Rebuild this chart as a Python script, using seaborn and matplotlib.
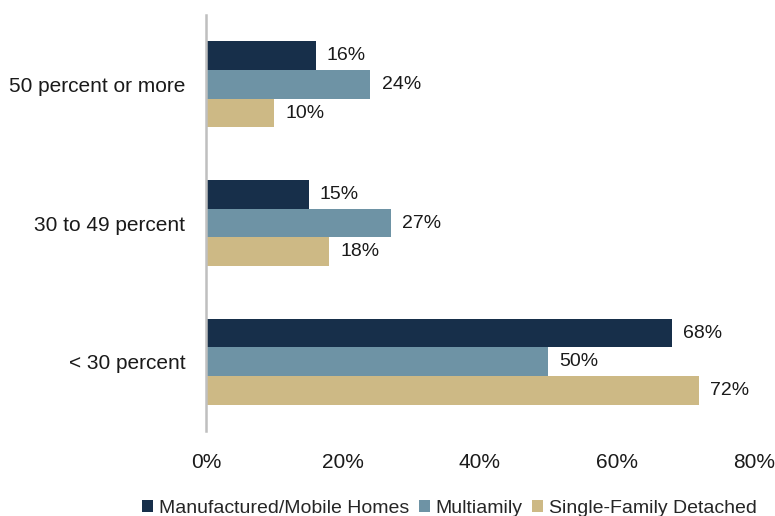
import matplotlib
matplotlib.use("Agg")
import matplotlib.pyplot as plt
import seaborn as sns
import pandas as pd

categories = ["50 percent or more", "30 to 49 percent", "< 30 percent"]
series = ["Manufactured/Mobile Homes", "Multiamily", "Single-Family Detached"]
manufactured = [16, 15, 68]
multifamily = [24, 27, 50]
single_family = [10, 18, 72]
x_ticks = [0, 20, 40, 60, 80]
x_tick_labels = ["0%", "20%", "40%", "60%", "80%"]

colors = ["#172f4a", "#6e93a5", "#cdb985"]

df = pd.DataFrame({
    "category": categories * 3,
    "series": [series[0]] * 3 + [series[1]] * 3 + [series[2]] * 3,
    "value": manufactured + multifamily + single_family,
})

sns.set_theme(style="white")
plt.rcParams["font.family"] = ["Liberation Sans", "DejaVu Sans"]

fig = plt.figure(figsize=(7.75, 5.16), dpi=100)
ax = fig.add_axes([0.2658, 0.1647, 0.7071, 0.8062])

sns.barplot(data=df, y="category", x="value", hue="series", order=categories,
            hue_order=series, palette=colors, orient="h", width=0.62,
            saturation=1, linewidth=0, ax=ax, legend=True)

for cont in ax.containers:
    ax.bar_label(cont, fmt="%.0f%%", padding=8, fontsize=14, color="#1a1a1a")

ax.set_xlim(0, 80)
ax.set_ylim(2.5, -0.5)
ax.set_xticks(x_ticks)
ax.set_xticklabels(x_tick_labels, fontsize=15, color="#1a1a1a")
ax.tick_params(axis="y", labelsize=15, labelcolor="#1a1a1a", length=0, pad=15)
ax.tick_params(axis="x", length=0, pad=16)
ax.set_xlabel("")
ax.set_ylabel("")
for s in ["top", "right", "bottom"]:
    ax.spines[s].set_visible(False)
ax.spines["left"].set_color("#bfbfbf")
ax.spines["left"].set_linewidth(1.8)

handles, labels = ax.get_legend_handles_labels()
ax.get_legend().remove()
fig.legend(handles, labels, loc="lower center", bbox_to_anchor=(0.58, -0.035),
           ncol=3, frameon=False, fontsize=14, handlelength=0.55, handleheight=0.55,
           handletextpad=0.3, columnspacing=0.5)

fig.savefig("out.png", dpi=100)
